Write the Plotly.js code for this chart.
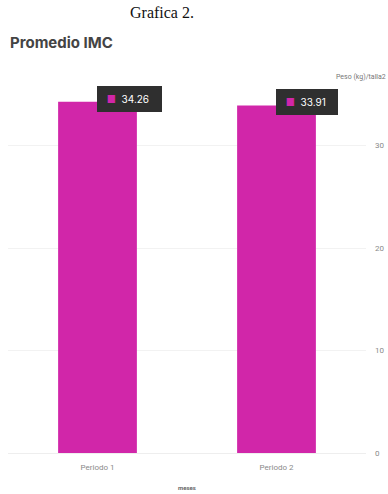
<!DOCTYPE html>
<html>
<head>
<meta charset="utf-8">
<script src="https://cdn.plot.ly/plotly-3.0.1.min.js"></script>
<style>
html,body{margin:0;padding:0;background:#fff;}
#chart{width:388px;height:494px;}
</style>
</head>
<body>
<div id="chart"></div>
<script>
const categories = ["Periodo 1", "Periodo 2"];
const imcValues = [34.26, 33.91];
const yTicks = [0, 10, 20, 30];
const barColor = "#D126A9";

const trace = {
  type: "bar",
  x: categories,
  y: imcValues,
  marker: {color: barColor, line: {width: 0}},
  hoverinfo: "none",
  showlegend: false
};

const tooltipAnns = categories.map((c, i) => ({
  x: c, y: imcValues[i], xref: "x", yref: "y",
  xanchor: "left", yanchor: "middle",
  xshift: -1, yshift: 3,
  showarrow: false,
  text: '&nbsp;<span style="color:' + barColor + '">■</span>&nbsp;&nbsp;' + imcValues[i].toFixed(2) + '&nbsp;&nbsp;',
  font: {family: "Inter, Roboto, sans-serif", size: 10, color: "#ffffff"},
  bgcolor: "#2f2f2f",
  bordercolor: "#2f2f2f",
  borderwidth: 1,
  borderpad: 6
}));

const layout = {
  width: 388, height: 494,
  margin: {l: 8, r: 22, t: 84, b: 41},
  paper_bgcolor: "#ffffff",
  plot_bgcolor: "#ffffff",
  bargap: 0.56,
  xaxis: {
    type: "category",
    showgrid: false, zeroline: false, showline: false,
    ticks: "",
    tickfont: {family: "Roboto, sans-serif", size: 8, color: "#8a8a8a"},
    ticklabelstandoff: 8,
    title: {text: "<b>meses</b>", font: {family: "Roboto, sans-serif", size: 6, color: "#666"}, standoff: 14}
  },
  yaxis: {
    side: "right",
    range: [0, 36],
    tickvals: yTicks,
    ticktext: yTicks.map(String),
    showgrid: true, gridcolor: "#f2f2f2", gridwidth: 1,
    zeroline: true, zerolinecolor: "#eeeeee", zerolinewidth: 1,
    showline: false, ticks: "",
    tickfont: {family: "Roboto, sans-serif", size: 8, color: "#8a8a8a"},
    ticklabelstandoff: 8
  },
  annotations: [
    {
      text: "Grafica 2.", xref: "paper", yref: "paper", x: 0.43, y: 1, yshift: 72,
      xanchor: "center", yanchor: "middle", showarrow: false,
      font: {family: "Liberation Serif, Times New Roman, serif", size: 16, color: "#111"}
    },
    {
      text: "<b>Promedio IMC</b>", xref: "paper", yref: "paper", x: 0, y: 1, yshift: 42,
      xanchor: "left", yanchor: "middle", showarrow: false,
      font: {family: "Inter, Roboto, sans-serif", size: 15, color: "#444"}
    },
    {
      text: "Peso (kg)/talla2", xref: "paper", yref: "paper", x: 1, y: 1, xshift: 22, yshift: 7,
      xanchor: "right", yanchor: "middle", showarrow: false,
      font: {family: "Roboto, sans-serif", size: 7, color: "#777"}
    }
  ].concat(tooltipAnns)
};

Plotly.newPlot("chart", [trace], layout, {displayModeBar: false, staticPlot: true});
</script>
</body>
</html>
